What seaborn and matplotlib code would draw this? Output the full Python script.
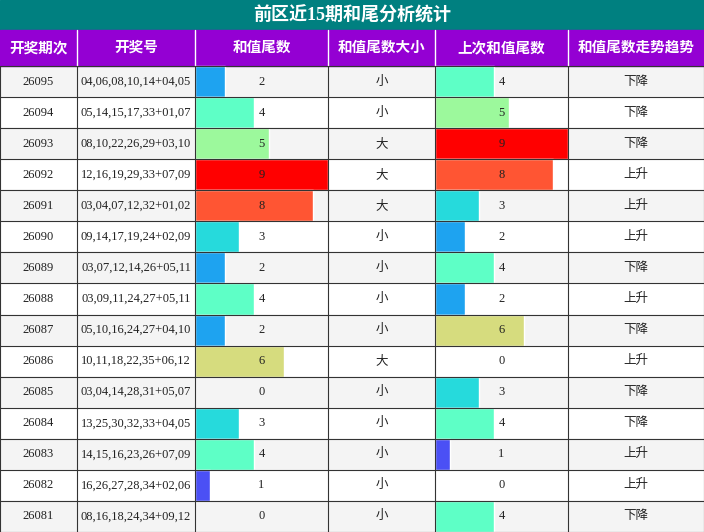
import matplotlib
matplotlib.use("Agg")
import matplotlib.pyplot as plt
import seaborn as sns
import numpy as np

sns.set_theme(style="white")
plt.rcParams['font.family'] = ['Liberation Serif', 'Noto Sans CJK SC', 'DejaVu Sans']

title = "前区近15期和尾分析统计"
headers = ["开奖期次", "开奖号", "和值尾数", "和值尾数大小", "上次和值尾数", "和值尾数走势趋势"]
periods = ["26095","26094","26093","26092","26091","26090","26089","26088","26087","26086","26085","26084","26083","26082","26081"]
numbers = ["04,06,08,10,14+04,05","05,14,15,17,33+01,07","08,10,22,26,29+03,10","12,16,19,29,33+07,09",
           "03,04,07,12,32+01,02","09,14,17,19,24+02,09","03,07,12,14,26+05,11","03,09,11,24,27+05,11",
           "05,10,16,24,27+04,10","10,11,18,22,35+06,12","03,04,14,28,31+05,07","13,25,30,32,33+04,05",
           "14,15,16,23,26+07,09","16,26,27,28,34+02,06","08,16,18,24,34+09,12"]
tail = [2,4,5,9,8,3,2,4,2,6,0,3,4,1,0]
size = ["小","小","大","大","大","小","小","小","小","大","小","小","小","小","小"]
prev_tail = [4,5,9,8,3,2,4,2,6,0,3,4,1,0,4]
trend = ["下降","下降","下降","上升","上升","上升","下降","上升","下降","上升","下降","下降","上升","上升","下降"]

colors = {0:"#ffffff",1:"#4b50f5",2:"#1ea3f0",3:"#26dadc",4:"#5effc6",5:"#9cf99c",
          6:"#d6dc7e",7:"#ffa040",8:"#ff5533",9:"#ff0000"}

W, H = 704, 532
fig = plt.figure(figsize=(7.04, 5.32), dpi=100)
ax = fig.add_axes([0, 0, 1, 1])
ax.set_xlim(0, W); ax.set_ylim(H, 0); ax.axis("off")

xs = [0, 77, 195, 328, 435, 568, 704]
title_h, head_top, head_bot = 30, 30, 66
rh = (H - head_bot) / 15
centers = head_bot + rh * (np.arange(15) + 0.5)

# title & header
ax.add_patch(plt.Rectangle((0, 0), W, title_h, color="#008080"))
ax.text(W/2, title_h/2, title, ha="center", va="center", color="white", fontsize=13, fontweight="bold")
ax.add_patch(plt.Rectangle((0, head_top), W, head_bot-head_top, color="#9400d3"))
for i, h in enumerate(headers):
    ax.text((xs[i]+xs[i+1])/2, (head_top+head_bot)/2, h, ha="center", va="center",
            color="white", fontsize=10.5, fontweight="bold")
for x in xs[1:-1]:
    ax.plot([x, x], [head_top, head_bot], color="white", lw=1)

# row backgrounds
for i, c in enumerate(centers):
    ax.add_patch(plt.Rectangle((0, c-rh/2), W, rh, color="#f4f4f4" if i % 2 == 0 else "white", zorder=0))

cw = xs[3]-xs[2]
ax.barh(centers, np.array(tail)/9*cw, left=xs[2], height=rh,
        color=[colors[v] for v in tail], zorder=1)
ax.barh(centers, np.array(prev_tail)/9*(xs[5]-xs[4]), left=xs[4], height=rh,
        color=[colors[v] for v in prev_tail], zorder=1)

for i, c in enumerate(centers):
    vals = [periods[i], numbers[i], str(tail[i]), size[i], str(prev_tail[i]), trend[i]]
    for j, v in enumerate(vals):
        ax.text((xs[j]+xs[j+1])/2, c, v, ha="center", va="center", fontsize=9, color="#222222", zorder=3)

# grid lines
for k in range(16):
    y = head_bot + k*rh
    ax.plot([0, W], [y, y], color="#333333", lw=0.8, zorder=2)
for x in xs:
    ax.plot([x, x], [head_bot, H], color="#333333", lw=0.8, zorder=2)

fig.savefig("out.png", dpi=100)
